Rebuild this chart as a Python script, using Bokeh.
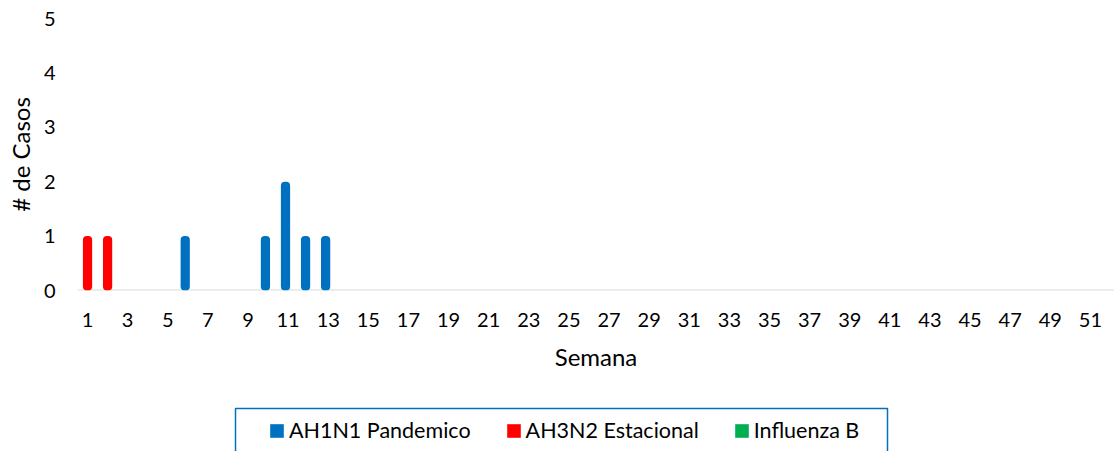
from bokeh.plotting import figure
from bokeh.layouts import column
from bokeh.models import (ColumnDataSource, Span, Legend, LegendItem, FixedTicker, Range1d,
                          BoxAnnotation)
from bokeh.transform import dodge
from bokeh.embed import file_html
from bokeh.resources import INLINE

# ---- data ----
weeks = list(range(1, 53))
ah1n1 = [0, 0, 0, 0, 0, 1, 0, 0, 0, 1, 2, 1, 1] + [0] * 39
ah3n2 = [1, 1] + [0] * 50
flu_b = [0] * 52
tick_weeks = list(range(1, 52, 2))
y_ticks = [0, 1, 2, 3, 4, 5]
series_names = ["AH1N1 Pandemico", "AH3N2 Estacional", "Influenza B"]
series_colors = ["#0070C0", "#FF0000", "#00B050"]

FONT = "Lato"
FRAME_LEFT = 77

src = ColumnDataSource(dict(week=weeks, ah1n1=ah1n1, ah3n2=ah3n2, flub=flu_b))


def add_bars(fig):
    a = fig.vbar(x=dodge("week", -0.13, range=fig.x_range), top="ah1n1", bottom=0, width=0.46,
                 source=src, fill_color=series_colors[0], line_color=None, border_radius=4)
    b = fig.vbar(x=dodge("week", 0.0, range=fig.x_range), top="ah3n2", bottom=0, width=0.46,
                 source=src, fill_color=series_colors[1], line_color=None, border_radius=4)
    c = fig.vbar(x=dodge("week", 0.13, range=fig.x_range), top="flub", bottom=0, width=0.46,
                 source=src, fill_color=series_colors[2], line_color=None, border_radius=2)
    return a, b, c


# ---------- main chart ----------
p = figure(width=1114, height=380, output_backend="svg", toolbar_location=None,
           x_range=Range1d(0.5, 52.2), y_range=Range1d(0, 5),
           min_border_left=FRAME_LEFT, min_border_right=0, min_border_top=18, min_border_bottom=90)
p.outline_line_color = None
p.xgrid.grid_line_color = None
p.ygrid.grid_line_color = None

p.add_layout(Span(location=0, dimension="width", line_color="#D9D9D9", line_width=2,
                  level="underlay"))
add_bars(p)

xa = p.xaxis[0]
xa.ticker = FixedTicker(ticks=tick_weeks)
xa.axis_line_color = None
xa.major_tick_line_color = None
xa.minor_tick_line_color = None
xa.major_tick_out = 0
xa.major_label_standoff = 22
xa.major_label_text_font = FONT
xa.major_label_text_font_size = "20px"
xa.major_label_text_color = "#000000"
xa.axis_label = "Semana"
xa.axis_label_text_font = FONT
xa.axis_label_text_font_size = "24px"
xa.axis_label_text_font_style = "normal"
xa.axis_label_text_color = "#000000"
xa.axis_label_standoff = 12

ya = p.yaxis[0]
ya.ticker = FixedTicker(ticks=y_ticks)
ya.axis_line_color = None
ya.major_tick_line_color = None
ya.minor_tick_line_color = None
ya.major_tick_out = 0
ya.major_label_standoff = 22
ya.major_label_text_font = FONT
ya.major_label_text_font_size = "20px"
ya.major_label_text_color = "#000000"
ya.axis_label = "# de Casos"
ya.axis_label_text_font = FONT
ya.axis_label_text_font_size = "24px"
ya.axis_label_text_font_style = "normal"
ya.axis_label_text_color = "#000000"
ya.axis_label_standoff = 6

# ---------- legend strip (frame is aligned with the chart frame; 1 data unit = 1 px) ----------
lf = figure(width=1114, height=71, output_backend="svg", toolbar_location=None,
            x_range=Range1d(0, 1114 - FRAME_LEFT), y_range=Range1d(-71, 0),
            x_axis_location=None, y_axis_location=None,
            min_border_left=FRAME_LEFT, min_border_right=0, min_border_top=0, min_border_bottom=0)
lf.grid.visible = False
lf.outline_line_color = None
r1, r2, r3 = add_bars(lf)

lf.add_layout(BoxAnnotation(left=235 - FRAME_LEFT, right=887 - FRAME_LEFT, top=-28, bottom=-90,
                            fill_alpha=0, line_color="#0070C0", line_alpha=1.0, line_width=1.5))

legend = Legend(items=[LegendItem(label=series_names[0], renderers=[r1]),
                       LegendItem(label=series_names[1], renderers=[r2]),
                       LegendItem(label=series_names[2], renderers=[r3])],
                orientation="horizontal", location=(268 - FRAME_LEFT, 8),
                glyph_width=17, glyph_height=17, label_standoff=4, spacing=34,
                padding=0, margin=0,
                label_text_font=FONT, label_text_font_size="21.5px", label_text_color="#000000",
                border_line_color=None, background_fill_alpha=0)
lf.add_layout(legend, "center")

layout = column(p, lf, spacing=0)
open("out.html", "w").write(file_html(layout, INLINE))
